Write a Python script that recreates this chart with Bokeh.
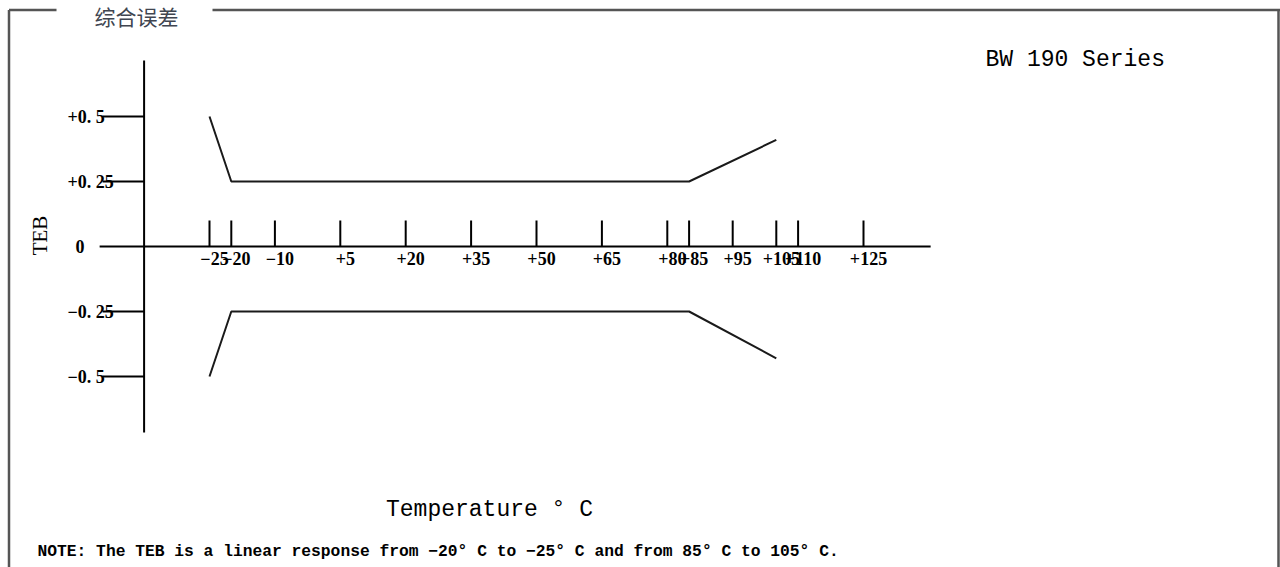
import math
from bokeh.plotting import figure
from bokeh.models import Range1d
from bokeh.core.properties import value
from bokeh.embed import file_html
from bokeh.resources import INLINE

# ---- data ----
temps = [-25, -20, 85, 105]
teb_upper = [0.5, 0.25, 0.25, 0.41]
teb_lower = [-0.5, -0.25, -0.25, -0.43]

x_ticks = [-25, -20, -10, 5, 20, 35, 50, 65, 80, 85, 95, 105, 110, 125]
x_tick_labels = ["\u221225", "\u221220", "\u221210", "+5", "+20", "+35", "+50", "+65",
                 "+80", "+85", "+95", "+105", "+110", "+125"]
y_ticks = [0.5, 0.25, 0, -0.25, -0.5]
y_tick_labels = ["+0. 5", "+0. 25", "0", "\u22120. 25", "\u22120. 5"]

title_text = "综合误差"
series_text = "BW 190 Series"
x_title = "Temperature \u00b0 C"
y_title = "TEB"
note_text = "NOTE: The TEB is a linear response from \u221220\u00b0 C to \u221225\u00b0 C and from 85\u00b0 C to 105\u00b0 C."

# ---- layout helpers (pixel -> data) ----
W, H = 1280, 567
PX_PER_DEG = 4.36
PX_PER_UNIT = 260.0
def tx(px):
    return -25 + (px - 209) / PX_PER_DEG
def vy(py):
    return (246 - py) / PX_PER_UNIT

p = figure(width=W, height=H, output_backend="svg", toolbar_location=None,
           x_range=Range1d(tx(0), tx(W)), y_range=Range1d(vy(H), vy(0)),
           min_border=0, outline_line_color=None, background_fill_color="white",
           border_fill_color="white")
p.axis.visible = False
p.grid.visible = False

# frame
frame_col = "#555555"
p.segment(x0=[tx(8.5), tx(8.5), tx(212), tx(1278)],
          y0=[vy(9.5), vy(9.5), vy(9.5), vy(9.5)],
          x1=[tx(8.5), tx(56), tx(1280), tx(1278)],
          y1=[vy(580), vy(9.5), vy(9.5), vy(580)],
          line_color=frame_col, line_width=2.5)
p.text(x=[tx(136)], y=[vy(15)], text=[title_text], text_font=value("Noto Sans CJK SC"),
       text_font_size="21px", text_color="#404550", text_align="center",
       text_baseline="middle")

# axes
AXIS_X = -40
p.segment(x0=[-50.2], y0=[0], x1=[140.4], y1=[0], line_color="black", line_width=2)
p.segment(x0=[AXIS_X], y0=[0.715], x1=[AXIS_X], y1=[-0.715], line_color="black", line_width=2)

# x ticks
p.segment(x0=x_ticks, y0=[0] * len(x_ticks), x1=x_ticks, y1=[0.1] * len(x_ticks),
          line_color="black", line_width=2)
p.text(x=x_ticks, y=[0] * len(x_ticks), text=x_tick_labels, x_offset=5, y_offset=12,
       text_font=value("Liberation Serif"), text_font_size="18px", text_font_style="bold",
       text_color="black", text_align="center", text_baseline="middle")

# y ticks
yt_nz = [v for v in y_ticks if v != 0]
p.segment(x0=[-49.5] * len(yt_nz), y0=yt_nz, x1=[AXIS_X] * len(yt_nz), y1=yt_nz,
          line_color="black", line_width=2)
ylab_x = [tx(75) if lab == "0" else tx(67) for lab in y_tick_labels]
p.text(x=ylab_x, y=y_ticks, text=y_tick_labels,
       text_font=value("Liberation Serif"), text_font_size="18px", text_font_style="bold",
       text_color="black", text_align="left", text_baseline="middle")

# data lines
p.line(temps, teb_upper, line_color="#1a1a1a", line_width=2)
p.line(temps, teb_lower, line_color="#1a1a1a", line_width=2)

# titles
p.text(x=[tx(39)], y=[vy(235)], text=[y_title], angle=math.pi / 2,
       text_font=value("Liberation Serif"), text_font_size="21px", text_color="black",
       text_align="center", text_baseline="middle")
p.text(x=[tx(489)], y=[vy(509)], text=[x_title],
       text_font=value("Liberation Mono"), text_font_size="23px", text_color="black",
       text_align="center", text_baseline="middle")
p.text(x=[tx(985)], y=[vy(59)], text=[series_text],
       text_font=value("Liberation Mono"), text_font_size="23px", text_color="black",
       text_align="left", text_baseline="middle")
p.text(x=[tx(37)], y=[vy(551)], text=[note_text],
       text_font=value("Liberation Mono"), text_font_size="16.3px", text_font_style="bold",
       text_color="black", text_align="left", text_baseline="middle")

open("out.html", "w").write(file_html(p, INLINE))
